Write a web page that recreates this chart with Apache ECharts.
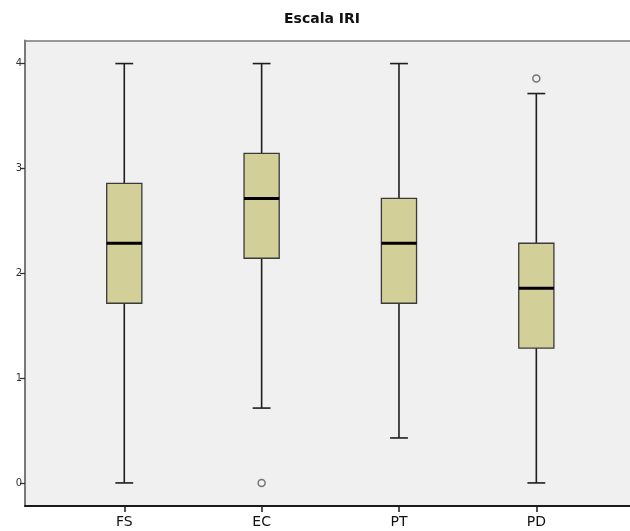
<!DOCTYPE html>
<html>
<head>
<meta charset="utf-8">
<script src="https://cdn.jsdelivr.net/npm/echarts@6/dist/echarts.min.js"></script>
<style>
  html, body { margin: 0; padding: 0; background: #ffffff; }
  #chart { width: 630px; height: 531px; }
</style>
</head>
<body>
<div id="chart"></div>
<script>
// Subscales of the IRI (Interpersonal Reactivity Index)
const categories = ['FS', 'EC', 'PT', 'PD'];
const whiskerLow  = [0,     0.714, 0.429, 0];
const quartile1   = [1.714, 2.143, 1.714, 1.286];
const median      = [2.286, 2.714, 2.286, 1.857];
const quartile3   = [2.857, 3.143, 2.714, 2.286];
const whiskerHigh = [4,     4,     4,     3.714];
// Outliers as [category, value]
const outliers = [['EC', 0], ['PD', 3.857]];
const yTicks = [0, 1, 2, 3, 4];

const boxData = categories.map((c, i) =>
  [i, whiskerLow[i], quartile1[i], median[i], quartile3[i], whiskerHigh[i]]);

const Y_MIN = -0.22, Y_MAX = 4.22;
const TOP = 40.5, BOTTOM = 25;

function renderBox(params, api) {
  const x = api.value(0);
  const band = api.size([1, 0])[0];
  const half = band * 0.128;
  const cap = band * 0.065;
  const pLow = api.coord([x, api.value(1)]);
  const pQ1 = api.coord([x, api.value(2)]);
  const pMed = api.coord([x, api.value(3)]);
  const pQ3 = api.coord([x, api.value(4)]);
  const pHigh = api.coord([x, api.value(5)]);
  const cx = pQ1[0];
  const whisker = { stroke: '#1e1e1e', lineWidth: 1.6 };
  return {
    type: 'group',
    children: [
      { type: 'line', shape: { x1: cx, y1: pLow[1], x2: cx, y2: pQ1[1] }, style: whisker },
      { type: 'line', shape: { x1: cx, y1: pQ3[1], x2: cx, y2: pHigh[1] }, style: whisker },
      { type: 'line', shape: { x1: cx - cap, y1: pLow[1], x2: cx + cap, y2: pLow[1] }, style: whisker },
      { type: 'line', shape: { x1: cx - cap, y1: pHigh[1], x2: cx + cap, y2: pHigh[1] }, style: whisker },
      {
        type: 'rect',
        shape: { x: cx - half, y: pQ3[1], width: half * 2, height: pQ1[1] - pQ3[1] },
        style: { fill: '#d3cf98', stroke: '#3a3a3a', lineWidth: 1.3 }
      },
      { type: 'line', shape: { x1: cx - half, y1: pMed[1], x2: cx + half, y2: pMed[1] },
        style: { stroke: '#000000', lineWidth: 3 } }
    ]
  };
}

const chart = echarts.init(document.getElementById('chart'), null, { renderer: 'canvas' });
chart.setOption({
  animation: false,
  backgroundColor: '#ffffff',
  title: {
    text: 'Escala IRI',
    left: 279,
    top: 7,
    textStyle: { fontFamily: 'DejaVu Sans', fontWeight: 'bold', fontSize: 14, color: '#111111' }
  },
  grid: [
    // frame with grey background
    { left: 25, right: -10, top: TOP, bottom: BOTTOM, show: true,
      backgroundColor: '#f0f0f0', borderWidth: 0 },
    // category placement
    { left: 55.6, right: 25, top: TOP, bottom: BOTTOM }
  ],
  xAxis: [
    { gridIndex: 0, type: 'value', min: 0, max: 1, position: 'bottom',
      axisLine: { show: true, onZero: false, lineStyle: { color: '#1a1a1a', width: 2 } },
      axisTick: { show: false }, axisLabel: { show: false }, splitLine: { show: false } },
    { gridIndex: 0, type: 'value', min: 0, max: 1, position: 'top',
      axisLine: { show: true, onZero: false, lineStyle: { color: '#7a7a7a', width: 1.5 } },
      axisTick: { show: false }, axisLabel: { show: false }, splitLine: { show: false } },
    { gridIndex: 1, type: 'category', data: categories, boundaryGap: true, position: 'bottom',
      axisLine: { show: false, onZero: false },
      axisTick: { show: true, alignWithLabel: true, length: 6, inside: false,
        lineStyle: { color: '#1a1a1a', width: 1.5 } },
      axisLabel: { margin: 9, fontSize: 14, fontFamily: 'DejaVu Sans', color: '#111111' },
      splitLine: { show: false } }
  ],
  yAxis: [
    { gridIndex: 0, type: 'value', min: Y_MIN, max: Y_MAX, position: 'left',
      axisLine: { show: true, onZero: false, lineStyle: { color: '#7a7a7a', width: 2 } },
      axisTick: { show: true, length: 5, customValues: yTicks,
        lineStyle: { color: '#333333', width: 1.3 } },
      axisLabel: { show: true, margin: 3, fontSize: 10, fontFamily: 'DejaVu Sans', color: '#333333',
        customValues: yTicks },
      splitLine: { show: false } },
    { gridIndex: 1, type: 'value', min: Y_MIN, max: Y_MAX, show: false, splitLine: { show: false } }
  ],
  series: [
    {
      type: 'custom',
      xAxisIndex: 2,
      yAxisIndex: 1,
      renderItem: renderBox,
      encode: { x: 0, y: [1, 2, 3, 4, 5] },
      data: boxData,
      z: 3
    },
    {
      type: 'scatter',
      xAxisIndex: 2,
      yAxisIndex: 1,
      symbol: 'circle',
      symbolSize: 7,
      itemStyle: { color: 'transparent', borderColor: '#555555', borderWidth: 1.5 },
      data: outliers,
      z: 4
    }
  ]
});
</script>
</body>
</html>
